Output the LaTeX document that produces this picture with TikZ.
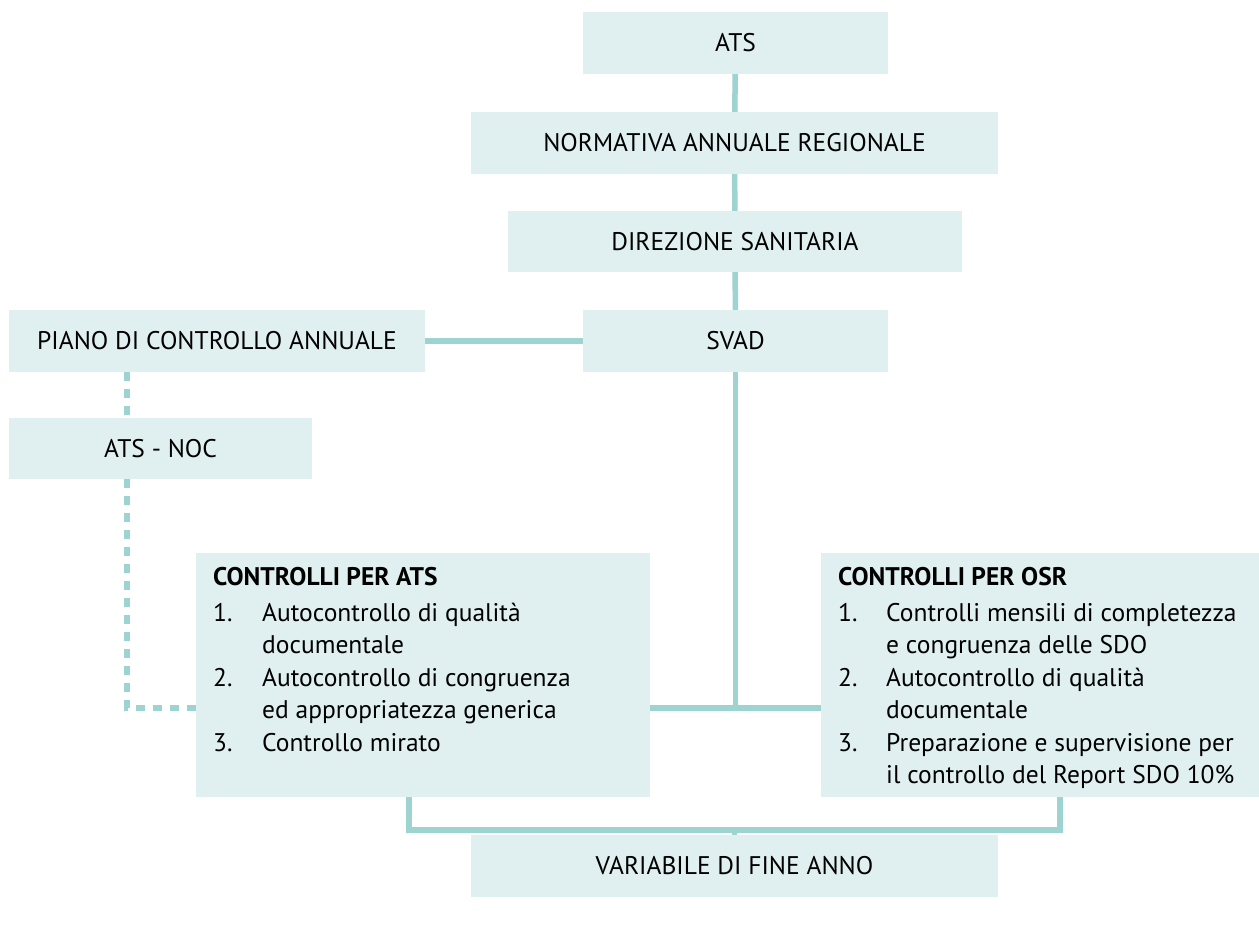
\documentclass[tikz,border=0pt]{standalone}
\usepackage{fontspec}
\setmainfont{PT Sans}
\usepackage{tikz}
\definecolor{boxfill}{RGB}{224,240,240}
\definecolor{linecol}{RGB}{157,211,209}

\begin{document}
\begin{tikzpicture}[x=1pt,y=-1pt]
    \tikzstyle{every node}+=[inner sep=0pt, font=\fontsize{25.5}{32.5}\selectfont]
    \tikzstyle{box}=[fill=boxfill, anchor=center]
    \tikzstyle{conn}=[linecol, line width=5.5pt]
    \tikzstyle{dconn}=[conn, dash pattern=on 9pt off 8pt]
    \useasboundingbox (0,0) rectangle (1259,945);
    % main column
    \node [box, minimum width=305pt, minimum height=62pt] (ats) at (735.5,43) {ATS};
    \node [box, minimum width=527pt, minimum height=62pt] (norm) at (734.5,143) {NORMATIVA ANNUALE REGIONALE};
    \node [box, minimum width=454pt, minimum height=61pt] (dir) at (735,241.5) {DIREZIONE SANITARIA};
    \node [box, minimum width=305pt, minimum height=62pt] (svad) at (735.5,341) {SVAD};
    \node [box, minimum width=527pt, minimum height=62pt] (var) at (734.5,866) {VARIABILE DI FINE ANNO};
    % left column
    \node [box, minimum width=416pt, minimum height=62pt] (piano) at (217,341) {PIANO DI CONTROLLO ANNUALE};
    \node [box, minimum width=303pt, minimum height=61pt] (noc) at (160.5,448.5) {ATS - NOC};
    % control boxes
    \node [box, minimum width=454pt, minimum height=244pt] (cats) at (423,675) {};
    \node [box, minimum width=438pt, minimum height=244pt] (cosr) at (1040,675) {};
    \node [anchor=north west] (catslist) at (213,563) {\begin{tabular}{@{}p{49pt}@{}l@{}}
        \multicolumn{2}{@{}l@{}}{\textbf{CONTROLLI PER ATS}}\\[3pt]
        1. & Autocontrollo di qualità\\
           & documentale\\
        2. & Autocontrollo di congruenza\\
           & ed appropriatezza generica\\
        3. & Controllo mirato
    \end{tabular}};
    \node [anchor=north west] (cosrlist) at (838,563) {\begin{tabular}{@{}p{48pt}@{}l@{}}
        \multicolumn{2}{@{}l@{}}{\textbf{CONTROLLI PER OSR}}\\[3pt]
        1. & Controlli mensili di completezza\\
           & e congruenza delle SDO\\
        2. & Autocontrollo di qualità\\
           & documentale\\
        3. & Preparazione e supervisione per\\
           & il controllo del Report SDO 10\%
    \end{tabular}};
    % connectors
    \coordinate (mid) at (735.5,708);
    \coordinate (dx) at (127,708);
    \coordinate (bl) at (409,830);
    \coordinate (br) at (1060,830);
    \draw [conn] (ats) -- (norm);
    \draw [conn] (norm) -- (dir);
    \draw [conn] (dir) -- (svad);
    \draw [conn] (piano) -- (svad);
    \draw [conn] (svad) -- (mid);
    \draw [conn] (cats.east |- mid) -- (cosr.west |- mid);
    \draw [dconn] (piano.south -| dx) -- (noc.north -| dx);
    \draw [dconn] (noc.south -| dx) -- (dx) -- (cats.west |- dx);
    \draw [conn] (cats.south -| bl) -- (bl) -- (br) -- (cosr.south -| br);
    \draw [conn] (var) -- (var |- bl);
\end{tikzpicture}
\end{document}
